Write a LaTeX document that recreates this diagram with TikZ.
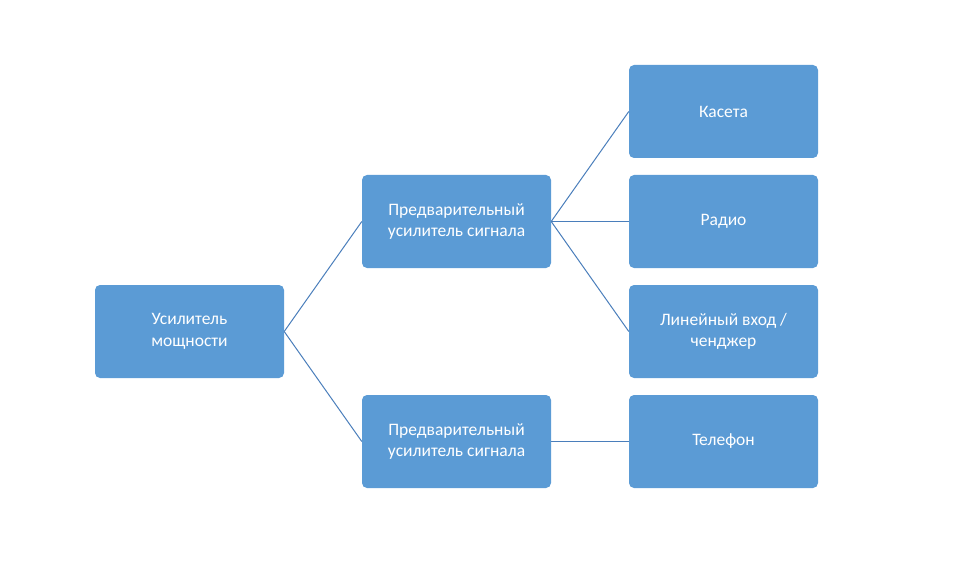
\documentclass[tikz,border=0pt]{standalone}
\usepackage{fontspec}
\setmainfont{Carlito}
\definecolor{boxc}{HTML}{5B9BD5}
\definecolor{linec}{HTML}{4A7EBB}
\begin{document}
\begin{tikzpicture}[x=1pt,y=-1pt,
  bx/.style={fill=boxc,draw=none,rounded corners=5pt,minimum width=189pt,minimum height=93pt,
    text=white,align=center,font=\fontsize{17.5}{21.5}\selectfont,inner sep=2pt},
  cn/.style={draw=linec,line width=1pt}]
\useasboundingbox (0,0) rectangle (960,580);
\node[bx] (pa) at (189.5,331.5) {Усилитель\\мощности};
\node[bx] (p1) at (456.5,221.5) {Предварительный\\усилитель сигнала};
\node[bx] (p2) at (456.5,441.5) {Предварительный\\усилитель сигнала};
\node[bx] (k) at (723.5,111.5) {Касета};
\node[bx] (r) at (723.5,221.5) {Радио};
\node[bx] (l) at (723.5,331.5) {Линейный вход /\\ченджер};
\node[bx] (t) at (723.5,441.5) {Телефон};
\draw[cn] (pa.east) -- (p1.west);
\draw[cn] (pa.east) -- (p2.west);
\draw[cn] (p1.east) -- (k.west);
\draw[cn] (p1.east) -- (r.west);
\draw[cn] (p1.east) -- (l.west);
\draw[cn] (p2.east) -- (t.west);
\end{tikzpicture}
\end{document}
